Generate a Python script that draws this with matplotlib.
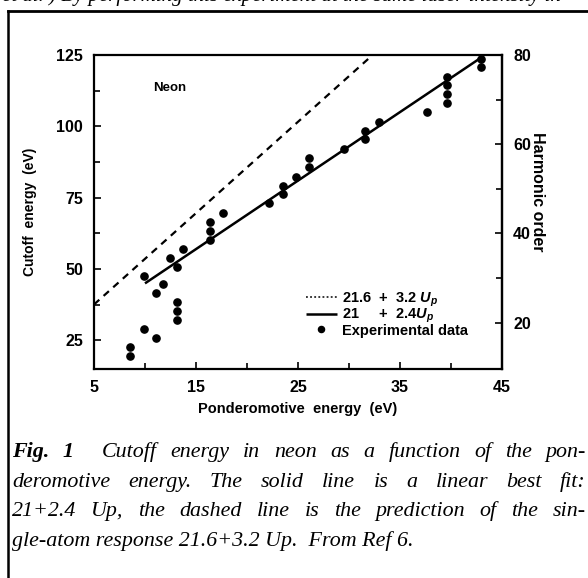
import matplotlib
matplotlib.use('Agg')
import matplotlib.pyplot as plt
import numpy as np
from matplotlib.lines import Line2D

# ---------------- data ----------------
U_exp = [8.5, 8.5, 9.9, 9.9, 11.1, 11.1, 11.8, 12.45, 13.1, 13.1, 13.1, 13.1,
         13.75, 16.4, 16.4, 16.4, 17.6, 22.2, 23.5, 23.5, 24.8, 26.1, 26.1,
         29.5, 31.6, 31.6, 32.9, 37.6, 39.6, 39.6, 39.6, 39.6, 42.9, 42.9]
E_exp = [22.7, 19.7, 47.6, 28.9, 41.5, 25.9, 44.7, 53.8, 50.8, 38.4, 35.2, 32.2,
         57.0, 60.2, 63.3, 66.6, 69.8, 73.0, 76.2, 79.2, 82.4, 85.7, 88.8,
         92.2, 95.4, 98.5, 101.6, 104.9, 108.1, 111.2, 114.5, 117.4, 120.7, 123.6]
solid_fit = (21.0, 2.4)      # intercept, slope
solid_U = [10.0, 43.0]
dash_fit = (21.6, 3.2)
dash_U = [5.0, 45.0]
eV_per_harmonic = 1.5625

x_ticks = [5, 15, 25, 35, 45]
x_minor = [10, 20, 30, 40]
y_ticks = [25, 50, 75, 100, 125]
y_minor = [37.5, 62.5, 87.5, 112.5]
h_ticks = [20, 40, 60, 80]
h_minor = [30, 50, 70]

legend_labels = [r'21.6  +  3.2 $U_p$', r'21     +  2.4$U_p$', 'Experimental data']

caption_lines = [
    [("Fig.", True), ("1", True), ("", False), ("Cutoff", False), ("energy", False), ("in", False), ("neon", False),
     ("as", False), ("a", False), ("function", False), ("of", False), ("the", False), ("pon-", False)],
    [(w, False) for w in "deromotive energy. The solid line is a linear best fit:".split()],
    [(w, False) for w in "21+2.4 Up, the dashed line is the prediction of the sin-".split()],
]
caption_last = "gle-atom response 21.6+3.2 Up.  From Ref 6."
top_text = "et al. ) By performing this experiment at the same laser intensity in"

# ---------------- style ----------------
plt.rcParams['font.family'] = ['Liberation Sans', 'DejaVu Sans']
plt.rcParams['font.weight'] = 'bold'
plt.rcParams['mathtext.fontset'] = 'custom'
plt.rcParams['mathtext.it'] = 'Liberation Sans:italic:bold'
plt.rcParams['mathtext.rm'] = 'Liberation Sans:bold'

W, H = 588, 578
fig = plt.figure(figsize=(W / 100, H / 100), dpi=100)
ax = fig.add_axes([94 / W, 1 - 369 / H, 408 / W, 314 / H])

xs = np.array(solid_U)
h_s, = ax.plot(xs, solid_fit[0] + solid_fit[1] * xs, color='k', lw=1.8, solid_capstyle='butt')
xd = np.array(dash_U)
h_d, = ax.plot(xd, dash_fit[0] + dash_fit[1] * xd, color='k', lw=1.6, ls=(0, (3.2, 2.6)))
h_p, = ax.plot(U_exp, E_exp, 'o', color='k', ms=5.2, ls='none')

ax.set_xlim(5, 45)
ax.set_ylim(15, 125)
ax.set_xticks(x_ticks)
ax.set_xticks(x_minor, minor=True)
ax.set_yticks(y_ticks)
ax.set_yticks(y_minor, minor=True)
for s in ax.spines.values():
    s.set_linewidth(1.6)
ax.tick_params(which='both', direction='in', width=1.2, labelsize=11.5, top=False, right=False)
ax.tick_params(which='major', length=5)
ax.tick_params(which='minor', length=4)
ax.tick_params(axis='x', pad=8)
ax.tick_params(axis='y', pad=8)
for lab in ax.get_xticklabels() + ax.get_yticklabels():
    lab.set_fontweight('bold')

sec = ax.secondary_yaxis('right', functions=(lambda e: e / eV_per_harmonic, lambda h: h * eV_per_harmonic))
sec.set_yticks(h_ticks)
sec.set_yticks(h_minor, minor=True)
sec.spines['right'].set_linewidth(1.6)
sec.tick_params(which='both', direction='in', width=1.2, labelsize=11.5, pad=8)
sec.tick_params(which='major', length=5)
sec.tick_params(which='minor', length=4)
for lab in sec.get_yticklabels():
    lab.set_fontweight('bold')
ax.text(1.088, 0.564, 'Harmonic order', transform=ax.transAxes, fontsize=11.5, fontweight='bold',
        rotation=-90, ha='center', va='center')

ax.set_xlabel('Ponderomotive  energy  (eV)', fontsize=10.5, fontweight='bold')
ax.xaxis.set_label_coords(0.5, -0.105)
ax.set_ylabel('Cutoff  energy  (eV)', fontsize=10, fontweight='bold')
ax.yaxis.set_label_coords(-0.14, 0.5)

ax.text(0.145, 0.895, 'Neon', transform=ax.transAxes, fontsize=9.5, fontweight='bold', va='center')

h_leg_d = Line2D([], [], color='k', lw=1.1, ls=(0, (1.2, 1.5)))
leg = ax.legend([h_leg_d, h_s, h_p], legend_labels, loc='upper left',
                bbox_to_anchor=(0.52, 0.25), frameon=False, fontsize=10.5,
                handlelength=2.1, handletextpad=0.35, labelspacing=-0.12,
                borderpad=0, borderaxespad=0, markerscale=0.85)
for t in leg.get_texts():
    t.set_fontweight('bold')

# ---------------- page frame ----------------
fig.add_artist(Line2D([8 / W, 1.0], [1 - 11 / H, 1 - 11 / H], transform=fig.transFigure, color='k', lw=2.0))
fig.add_artist(Line2D([8 / W, 8 / W], [1 - 11 / H, 0], transform=fig.transFigure, color='k', lw=1.8))
fig.text(2 / W, 1 - 1 / H, top_text, family='Liberation Serif', style='italic', weight='normal',
         fontsize=15, va='baseline', ha='left')

# ---------------- caption ----------------
fig.canvas.draw()
r = fig.canvas.get_renderer()
cap_fs = 15.8
serif = 'Liberation Serif'


def wwidth(txt, bold):
    t = fig.text(0, 0, txt, family=serif, style='italic', weight='bold' if bold else 'normal', fontsize=cap_fs)
    w = t.get_window_extent(r).width
    t.remove()
    return w


baselines = [457, 487, 516, 546]
x0, x1 = 12, 586
for line, yb in zip(caption_lines, baselines):
    words = [(w, b) for (w, b) in line]
    widths = [wwidth(w, b) if w else 0.0 for w, b in words]
    gaps = len(words) - 1
    gap = (x1 - x0 - sum(widths)) / gaps
    x = x0
    for (w, b), wd in zip(words, widths):
        if w:
            fig.text(x / W, 1 - yb / H, w, family=serif, style='italic', weight='bold' if b else 'normal',
                     fontsize=cap_fs, va='baseline', ha='left')
        x += wd + gap
fig.text(x0 / W, 1 - baselines[3] / H, caption_last, family=serif, style='italic', weight='normal',
         fontsize=cap_fs, va='baseline', ha='left')

fig.savefig('out.png', dpi=100)
